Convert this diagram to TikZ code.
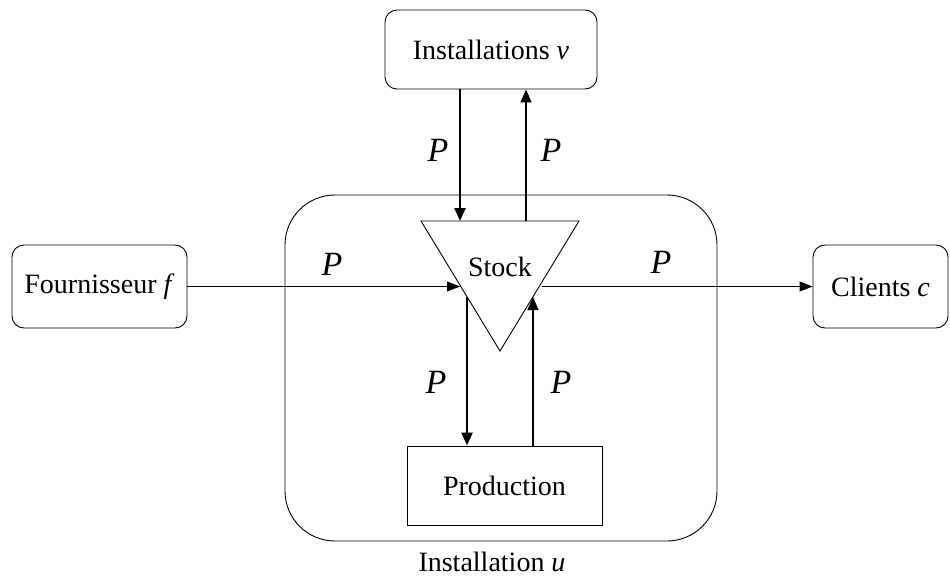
\documentclass[tikz,border=0pt]{standalone}
\usepackage{fontspec}
\setmainfont{Liberation Serif}
\usetikzlibrary{arrows.meta}
\tikzset{
  box/.style={draw=black, line width=0.9pt, rounded corners=12pt, inner sep=0pt, font=\fontsize{28}{34}\selectfont},
  plainbox/.style={draw=black, line width=0.9pt, inner sep=0pt, font=\fontsize{28}{34}\selectfont},
  lbl/.style={font=\fontsize{34}{40}\selectfont\itshape, inner sep=0pt},
  txt/.style={font=\fontsize{28}{34}\selectfont, inner sep=0pt},
  thickarr/.style={line width=2.4pt, -{Triangle[length=13pt,width=11pt]}},
  thinarr/.style={line width=1.4pt, -{Triangle[length=13pt,width=11pt]}},
  flowarr/.style={line width=0.9pt, -{Triangle[length=13pt,width=10pt]}},
}
\begin{document}
\begin{tikzpicture}[x=1pt,y=-1pt]
\useasboundingbox (0,0) rectangle (950,578);
% container
\draw[line width=0.9pt, rounded corners=50pt] (285,195) rectangle (717,541);
\node[txt] (ulabel) at (492,562) {Installation \textit{u}};
% boxes
\node[box, minimum width=212pt, minimum height=79pt] (v) at (491,49.5) {Installations \textit{v}};
\node[box, minimum width=175pt, minimum height=83pt] (f) at (99.5,286.5) {Fournisseur \textit{f}};
\node[box, minimum width=135pt, minimum height=83pt] (c) at (880.5,286.5) {Clients \textit{c}};
\node[plainbox, minimum width=195pt, minimum height=79pt] (prod) at (504.5,485.5) {Production};
% stock triangle
\coordinate (tl) at (421,221);
\coordinate (tr) at (579,221);
\coordinate (tb) at (500,351);
\draw[line width=0.9pt, fill=white] (tl) -- (tr) -- (tb) -- cycle;
\node[txt] (stock) at (500,267) {Stock};
% connection points on the triangle
\coordinate (sIn) at (460,221);
\coordinate (sOut) at (526,221);
\coordinate (sF) at (460,286.5);
\coordinate (sC) at (542,286.5);
\coordinate (sPd) at (467,297);
\coordinate (sPu) at (533,297);
% arrows
\draw[thickarr] (v.south -| sIn) -- (sIn);
\draw[thinarr] (sOut) -- (v.south -| sOut);
\draw[flowarr] (f.east) -- (sF);
\draw[flowarr] (sC) -- (c.west);
\draw[thickarr] (sPd) -- (prod.north -| sPd);
\draw[thinarr] (prod.north -| sPu) -- (sPu);
% labels
\node[lbl] (p1) at (438,150) {P};
\node[lbl] (p2) at (551,150) {P};
\node[lbl] (p3) at (332,264) {P};
\node[lbl] (p4) at (661,262) {P};
\node[lbl] (p5) at (436,382) {P};
\node[lbl] (p6) at (561,382) {P};
\end{tikzpicture}
\end{document}
